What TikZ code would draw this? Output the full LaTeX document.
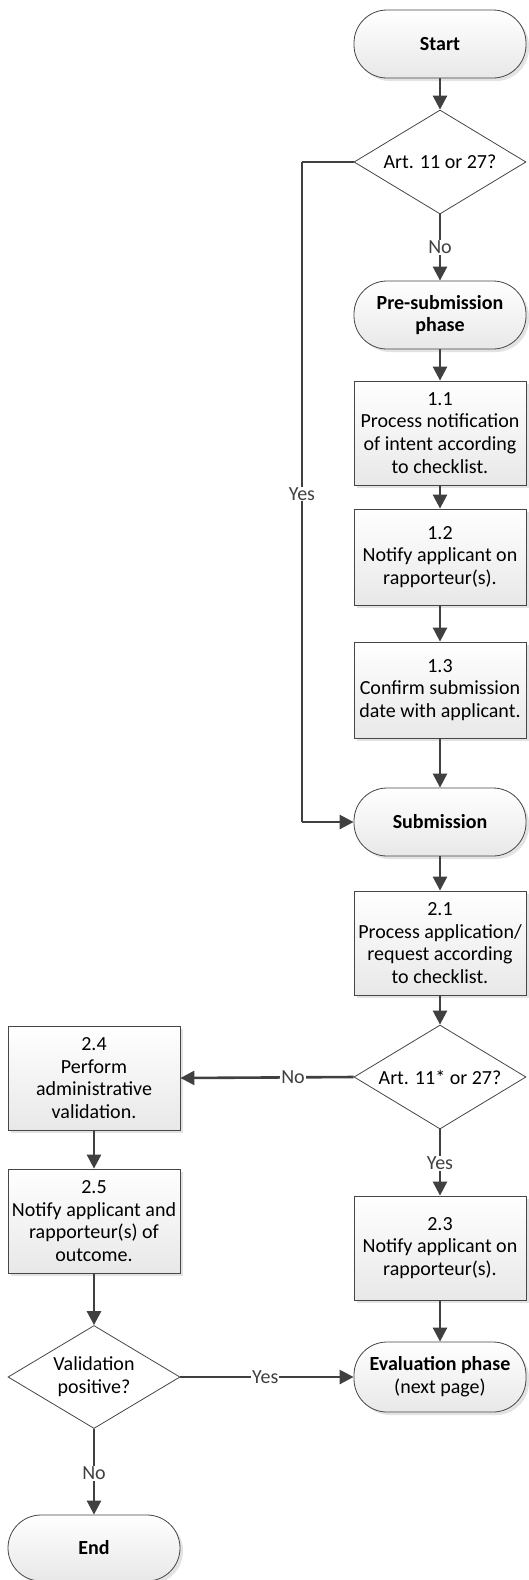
\documentclass[tikz,border=0pt]{standalone}
\usepackage{fontspec}
\setmainfont{Carlito}
\usepackage{tikz}
\usetikzlibrary{shapes,arrows.meta,positioning,shadows}
\definecolor{flowline}{RGB}{64,64,64}
\definecolor{flowedge}{RGB}{70,70,70}
\definecolor{flowfill}{RGB}{232,232,232}

\begin{document}
\begin{tikzpicture}[
  x=1pt,y=-1pt,
  font=\fontsize{20}{22.8}\selectfont,
  box/.style={draw=flowedge,line width=0.8pt,top color=white,bottom color=flowfill,
              minimum width=172pt,align=center,inner sep=1pt,
              drop shadow={shadow xshift=3pt,shadow yshift=-3pt,fill=black!22}},
  term/.style={box,rounded corners=33pt,minimum height=68pt,font=\fontsize{20}{22.8}\selectfont\bfseries},
  decide/.style={diamond,aspect=1.65,draw=flowedge,line width=0.8pt,fill=white,
                 minimum width=172pt,minimum height=104pt,align=center,inner sep=0pt},
  arr/.style={-{Triangle[length=14pt,width=14pt]},line width=2.6pt,color=flowline},
  lin/.style={line width=2.6pt,color=flowline},
  lbl/.style={fill=white,inner sep=1pt}
]
\useasboundingbox (0,0) rectangle (528,1580);

% right column
\node[term] (start) at (440,44) {Start};
\node[decide] (art1) at (440,162) {Art. 11 or 27?};
\node[term] (pre) at (440,315) {Pre-submission\\phase};
\node[box,minimum height=104pt] (s11) at (440,433) {1.1\\Process notification\\of intent according\\to checklist.};
\node[box,minimum height=96pt] (s12) at (440,557) {1.2\\Notify applicant on\\rapporteur(s).};
\node[box,minimum height=96pt] (s13) at (440,690) {1.3\\Confirm submission\\date with applicant.};
\node[term] (sub) at (440,822) {Submission};
\node[box,minimum height=104pt] (s21) at (440,943) {2.1\\Process application/\\request according\\to checklist.};
\node[decide] (art2) at (440,1077) {Art. 11* or 27?};
\node[box,minimum height=104pt] (s23) at (440,1248) {2.3\\Notify applicant on\\rapporteur(s).};
\node[term,minimum height=70pt] (eval) at (440,1377) {Evaluation phase\\\mdseries(next page)};

% left column
\node[box,minimum height=104pt] (s24) at (94,1078) {2.4\\Perform\\administrative\\validation.};
\node[box,minimum height=104pt] (s25) at (94,1221) {2.5\\Notify applicant and\\rapporteur(s) of\\outcome.};
\node[decide,minimum height=103pt] (valid) at (94,1377) {Validation\\positive?};
\node[term,minimum height=66pt] (end) at (94,1548) {End};

\coordinate (loopa) at (302,162);
\coordinate (loopb) at (302,822);

\draw[arr] (start)--(art1);
\draw[arr] (art1)-- node[lbl,pos=0.5] {No} (pre);
\draw[arr] (pre)--(s11);
\draw[arr] (s11)--(s12);
\draw[arr] (s12)--(s13);
\draw[arr] (s13)--(sub);
\draw[lin] (art1.west)--(loopa);
\draw[lin] (loopa)-- node[lbl,pos=0.503] {Yes} (loopb);
\draw[arr] (loopb)--(sub.west);
\draw[arr] (sub)--(s21);
\draw[arr] (s21)--(art2);
\draw[arr] (art2)-- node[lbl,pos=0.51] {Yes} (s23);
\draw[arr] (art2.west)-- node[lbl,pos=0.35] {No} (s24.east);
\draw[arr] (s23)--(eval);
\draw[arr] (s24)--(s25);
\draw[arr] (s25)--(valid);
\draw[arr] (valid.east)-- node[lbl,pos=0.49] {Yes} (eval.west);
\draw[arr] (valid)-- node[lbl,pos=0.52] {No} (end);
\end{tikzpicture}
\end{document}
